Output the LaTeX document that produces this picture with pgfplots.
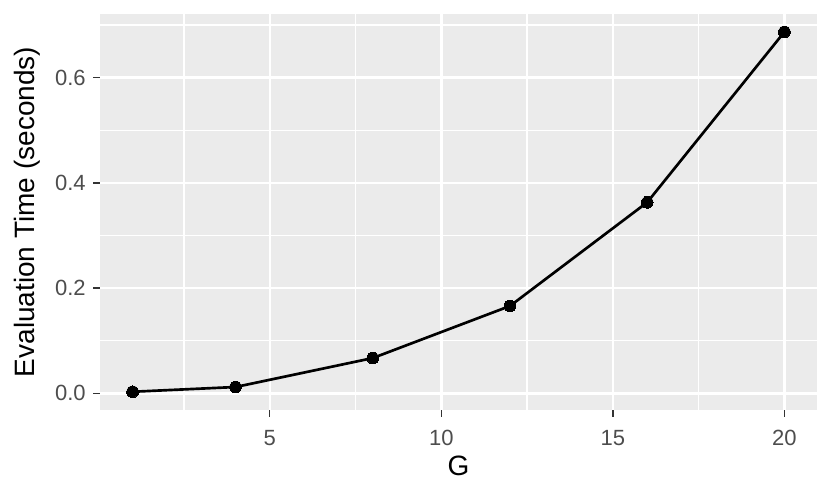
\documentclass[border=0pt]{standalone}
\usepackage{pgfplots}
\pgfplotsset{compat=1.18}
\usepackage{fontspec}
\setmainfont{Liberation Sans}
\definecolor{panelbg}{HTML}{EBEBEB}
\definecolor{ticktext}{HTML}{4D4D4D}
\definecolor{tickmark}{HTML}{333333}
\begin{document}
\begin{tikzpicture}
\useasboundingbox (-75pt,-59.25pt) rectangle (547.5pt,307.5pt);
\begin{axis}[
  at={(0,0)}, anchor=south west,
  scale only axis, width=537.75pt, height=297pt,
  xmin=0.05, xmax=20.95, ymin=-0.0317, ymax=0.721,
  axis background/.style={fill=panelbg},
  axis line style={draw=none},
  xtick={5,10,15,20}, ytick={0,0.2,0.4,0.6},
  minor xtick={2.5,7.5,12.5,17.5}, minor ytick={0.1,0.3,0.5,0.7},
  xticklabels={5,10,15,20},
  yticklabels={0.0,0.2,0.4,0.6},
  grid=both,
  major grid style={draw=white, line width=1.9pt},
  minor grid style={draw=white, line width=1pt},
  tick align=outside, tickpos=left,
  major tick length=5.2pt, minor tick length=0pt,
  every tick/.style={draw=tickmark, line width=1pt},
  tick label style={font=\fontsize{16.5}{18}\selectfont, text=ticktext, inner sep=0pt},
  xticklabel style={anchor=north, yshift=-9.5pt},
  yticklabel style={anchor=east, xshift=-5.3pt},
  xlabel={G}, ylabel={Evaluation Time (seconds)},
  label style={font=\fontsize{21}{24}\selectfont, text=black, inner sep=0pt},
  xlabel style={at={([yshift=-48.75pt]axis description cs:0.5,0)}, anchor=base},
  ylabel style={at={([xshift=-48.75pt]axis description cs:0,0.5)}, anchor=base, rotate=0},
  clip=false,
]
\addplot[black, line width=2pt, mark=*, mark size=4.4pt, mark options={fill=black, draw=black, line width=0pt}]
  coordinates {(1,0.003) (4,0.012) (8,0.067) (12,0.166) (16,0.363) (20,0.687)};
\end{axis}
\end{tikzpicture}
\end{document}
